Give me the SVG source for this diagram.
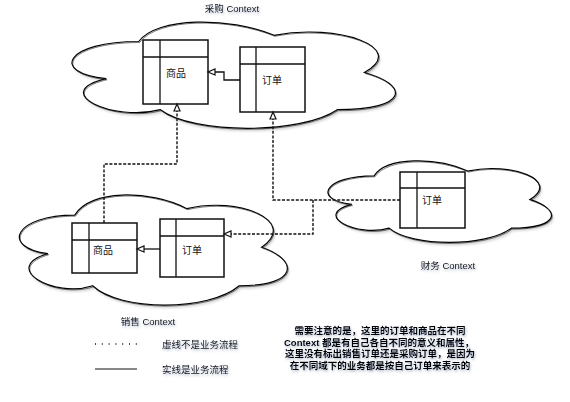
<svg xmlns="http://www.w3.org/2000/svg" width="570" height="402" viewBox="0 0 570 402">
<style>
.cloud{fill:#fff;stroke:#000;stroke-width:1.2}
.cloud2{fill:none;stroke:#222;stroke-width:0.6}
.shadow{fill:#888;opacity:0.35}
.tbl{fill:#fff;stroke:#111;stroke-width:1.5}
.div{stroke:#111;stroke-width:1.3;fill:none}
.t{font-family:"Liberation Sans","Noto Sans CJK SC",sans-serif;font-size:10px;fill:#111}
.lbl{font-family:"Liberation Sans","Noto Sans CJK SC",sans-serif;font-size:9.5px;fill:#111;filter:url(#ts)}
.note{font-family:"Liberation Sans","Noto Sans CJK SC",sans-serif;font-size:9.5px;font-weight:bold;fill:#000;text-anchor:middle;filter:url(#ts)}
.dash{fill:none;stroke:#111;stroke-width:1.4;stroke-dasharray:3 1.6}
.solid{fill:none;stroke:#111;stroke-width:1.3}
</style>
<defs>
<filter id="ts" x="-10%" y="-30%" width="120%" height="160%">
<feDropShadow dx="1" dy="1.5" stdDeviation="0.8" flood-color="#5a6a90" flood-opacity="0.5"/>
</filter>
<filter id="cs" x="-5%" y="-5%" width="110%" height="115%">
<feGaussianBlur stdDeviation="1"/>
</filter>
<marker id="open" markerUnits="userSpaceOnUse" markerWidth="10" markerHeight="10" refX="7" refY="3" orient="auto" viewBox="-1 -1 10 8">
<path d="M0,0 L7,3 L0,6 Z" fill="#fff" stroke="#111" stroke-width="1.2"/>
</marker>
</defs>

<g id="cloud-caigou">
<path class="shadow" filter="url(#cs)" transform="translate(2,3)" d="M138.75,41.5 C66.55,41.5 48.5,72.5 106.26,78.7 C48.5,92.34 113.48,122.1 160.41,109.7 C192.9,134.5 301.2,134.5 337.3,109.7 C409.5,109.7 409.5,84.9 364.38,72.5 C409.5,47.7 337.3,22.9 274.13,35.3 C229,16.7 156.8,16.7 138.75,41.5 Z"/>
<path class="cloud" d="M138.75,41.5 C66.55,41.5 48.5,72.5 106.26,78.7 C48.5,92.34 113.48,122.1 160.41,109.7 C192.9,134.5 301.2,134.5 337.3,109.7 C409.5,109.7 409.5,84.9 364.38,72.5 C409.5,47.7 337.3,22.9 274.13,35.3 C229,16.7 156.8,16.7 138.75,41.5 Z"/>
<path class="cloud2" transform="translate(0.8,1)" d="M138.75,41.5 C66.55,41.5 48.5,72.5 106.26,78.7 C48.5,92.34 113.48,122.1 160.41,109.7 C192.9,134.5 301.2,134.5 337.3,109.7 C409.5,109.7 409.5,84.9 364.38,72.5 C409.5,47.7 337.3,22.9 274.13,35.3 C229,16.7 156.8,16.7 138.75,41.5 Z"/>
<text class="lbl" x="232" y="12" text-anchor="middle">采购 Context</text>
</g>

<g id="cloud-xiaoshou">
<path class="shadow" filter="url(#cs)" transform="translate(2,3)" d="M74.75,215.13 C14.95,215.13 0,247.25 47.84,253.68 C0,267.81 53.82,298.65 92.69,285.8 C119.6,311.5 209.3,311.5 239.2,285.8 C299,285.8 299,260.1 261.63,247.25 C299,221.55 239.2,195.85 186.88,208.7 C149.5,189.43 89.7,189.43 74.75,215.13 Z"/>
<path class="cloud" d="M74.75,215.13 C14.95,215.13 0,247.25 47.84,253.68 C0,267.81 53.82,298.65 92.69,285.8 C119.6,311.5 209.3,311.5 239.2,285.8 C299,285.8 299,260.1 261.63,247.25 C299,221.55 239.2,195.85 186.88,208.7 C149.5,189.43 89.7,189.43 74.75,215.13 Z"/>
<path class="cloud2" transform="translate(0.8,1)" d="M74.75,215.13 C14.95,215.13 0,247.25 47.84,253.68 C0,267.81 53.82,298.65 92.69,285.8 C119.6,311.5 209.3,311.5 239.2,285.8 C299,285.8 299,260.1 261.63,247.25 C299,221.55 239.2,195.85 186.88,208.7 C149.5,189.43 89.7,189.43 74.75,215.13 Z"/>
<text class="lbl" x="148" y="324.5" text-anchor="middle">销售 Context</text>
</g>

<g id="cloud-caiwu">
<path class="shadow" filter="url(#cs)" transform="translate(2,3)" d="M374.15,175.8 C324.27,175.8 311.8,199.6 351.7,204.36 C311.8,214.83 356.69,237.68 389.11,228.16 C411.56,247.2 486.38,247.2 511.32,228.16 C561.2,228.16 561.2,209.12 530.03,199.6 C561.2,180.56 511.32,161.52 467.68,171.04 C436.5,156.76 386.62,156.76 374.15,175.8 Z"/>
<path class="cloud" d="M374.15,175.8 C324.27,175.8 311.8,199.6 351.7,204.36 C311.8,214.83 356.69,237.68 389.11,228.16 C411.56,247.2 486.38,247.2 511.32,228.16 C561.2,228.16 561.2,209.12 530.03,199.6 C561.2,180.56 511.32,161.52 467.68,171.04 C436.5,156.76 386.62,156.76 374.15,175.8 Z"/>
<path class="cloud2" transform="translate(0.8,1)" d="M374.15,175.8 C324.27,175.8 311.8,199.6 351.7,204.36 C311.8,214.83 356.69,237.68 389.11,228.16 C411.56,247.2 486.38,247.2 511.32,228.16 C561.2,228.16 561.2,209.12 530.03,199.6 C561.2,180.56 511.32,161.52 467.68,171.04 C436.5,156.76 386.62,156.76 374.15,175.8 Z"/>
<text class="lbl" x="448" y="268.5" text-anchor="middle">财务 Context</text>
</g>

<g id="caigou-shangpin">
<rect class="tbl" x="143" y="40" width="65" height="64"/>
<path class="div" d="M160,40 V104 M143,57 H208"/>
<text class="t" x="176" y="76.5" text-anchor="middle">商品</text>
</g>
<g id="caigou-dingdan">
<rect class="tbl" x="240" y="47" width="65" height="65"/>
<path class="div" d="M256,47 V112 M240,64 H305"/>
<text class="t" x="272" y="83.5" text-anchor="middle">订单</text>
</g>

<g id="xiaoshou-shangpin">
<rect class="tbl" x="72" y="223" width="65" height="50"/>
<path class="div" d="M89,223 V273 M72,240 H137"/>
<text class="t" x="103" y="253.5" text-anchor="middle">商品</text>
</g>
<g id="xiaoshou-dingdan">
<rect class="tbl" x="160" y="219" width="64" height="58"/>
<path class="div" d="M176,219 V277 M160,236 H224"/>
<text class="t" x="192" y="253.5" text-anchor="middle">订单</text>
</g>

<g id="caiwu-dingdan">
<rect class="tbl" x="400" y="172" width="65" height="56"/>
<path class="div" d="M417,172 V228 M400,188 H465"/>
<text class="t" x="432" y="203.5" text-anchor="middle">订单</text>
</g>

<g id="connectors">
<path class="solid" d="M240,80 H224 V72 H208" marker-end="url(#open)"/>
<path class="solid" d="M160,249 H137" marker-end="url(#open)"/>
<path class="dash" d="M104,223 V164 H177 V104" marker-end="url(#open)"/>
<path class="dash" d="M400,200 H273 V112" marker-end="url(#open)"/>
<path class="dash" d="M313,200 V234 H224" marker-end="url(#open)"/>
</g>

<g id="legend">
<line x1="95" y1="344" x2="138" y2="344" stroke="#111" stroke-width="1.3" stroke-dasharray="1 5.8"/>
<text class="lbl" x="162" y="347.5">虚线不是业务流程</text>
<line x1="95" y1="369" x2="137" y2="369" stroke="#111" stroke-width="1"/>
<text class="lbl" x="162" y="372.5">实线是业务流程</text>
</g>

<g id="note">
<text class="note" x="380" y="334">需要注意的是，这里的订单和商品在不同</text>
<text class="note" x="379" y="345.5">Context 都是有自己各自不同的意义和属性，</text>
<text class="note" x="380" y="357">这里没有标出销售订单还是采购订单，是因为</text>
<text class="note" x="380" y="368.5">在不同域下的业务都是按自己订单来表示的</text>
</g>
</svg>
